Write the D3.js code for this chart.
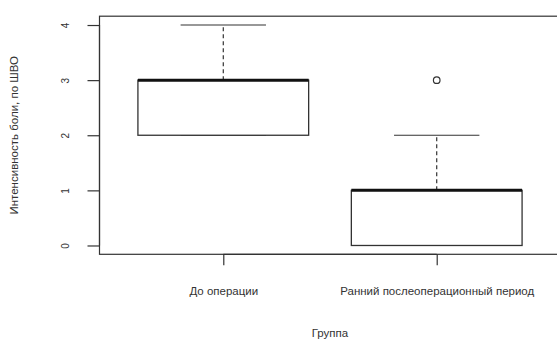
<!DOCTYPE html>
<html><head><meta charset="utf-8">
<script src="https://cdn.jsdelivr.net/npm/d3@7"></script>
<style>
html,body{margin:0;padding:0;background:#fff;}
svg{display:block;}
text{font-family:"Liberation Sans",Arial,sans-serif;fill:#333;}
</style></head>
<body><svg id="c" width="557" height="340"></svg>
<script>
const categories = ["До операции", "Ранний послеоперационный период"];
const lowerWhisker = [2, 0];
const q1 = [2, 0];
const median = [3, 1];
const q3 = [3, 1];
const upperWhisker = [4, 2];
const outliers = [[], [3]];
const yTicks = [0, 1, 2, 3, 4];
const yTitle = "Интенсивность боли, по ШВО";
const xTitle = "Группа";

const svg = d3.select("#c");
const L = 99.5, R = 560.5, T = 16.2, B = 254.3;
const x = d3.scaleLinear().domain([0.42, 2.58]).range([L, R]);
const y = d3.scaleLinear().domain([-0.16, 4.16]).range([B, T]);
const ink = "#333";

// frame
svg.append("rect").attr("x", L).attr("y", T).attr("width", R - L).attr("height", B - T)
  .attr("fill", "none").attr("stroke", ink).attr("stroke-width", 1.2);

// y axis
const ya = svg.append("g").attr("transform", `translate(${L},0)`)
  .call(d3.axisLeft(y).tickValues(yTicks).tickSize(12).tickFormat(d3.format("d")));
ya.select(".domain").attr("d", `M${-0},${y(0)}V${y(4)}`).attr("stroke", ink).attr("stroke-width", 1.2);
ya.selectAll(".tick line").attr("stroke", ink).attr("stroke-width", 1.2);
ya.selectAll(".tick text").attr("x", null).attr("dy", null)
  .attr("text-anchor", "middle").attr("transform", "translate(-34,0) rotate(-90)")
  .attr("dy", "0.35em").style("font-size", "10px").attr("fill", ink);

// x axis
const xa = svg.append("g").attr("transform", `translate(0,${B})`)
  .call(d3.axisBottom(x).tickValues([1, 2]).tickSize(11).tickFormat((d, i) => categories[i]));
xa.select(".domain").attr("d", `M${x(1)},0H${x(2)}`).attr("stroke", ink).attr("stroke-width", 1.2);
xa.selectAll(".tick line").attr("stroke", ink).attr("stroke-width", 1.2);
xa.selectAll(".tick text").attr("y", 36.5).attr("dy", "0.35em")
  .style("font-size", "11.5px").attr("fill", ink);

// boxes
const bw = 0.4, sw = 0.2;
const g = svg.append("g");
categories.forEach((c, i) => {
  const cx = i + 1;
  // whiskers dashed
  g.append("line").attr("x1", x(cx)).attr("x2", x(cx)).attr("y1", y(q3[i])).attr("y2", y(upperWhisker[i]))
    .attr("stroke", ink).attr("stroke-width", 1.2).attr("stroke-dasharray", "4,3");
  g.append("line").attr("x1", x(cx)).attr("x2", x(cx)).attr("y1", y(q1[i])).attr("y2", y(lowerWhisker[i]))
    .attr("stroke", ink).attr("stroke-width", 1.2).attr("stroke-dasharray", "4,3");
  // staples
  [upperWhisker[i], lowerWhisker[i]].forEach(v => {
    g.append("line").attr("x1", x(cx - sw)).attr("x2", x(cx + sw)).attr("y1", y(v)).attr("y2", y(v))
      .attr("stroke", ink).attr("stroke-width", 1.2);
  });
  // box
  g.append("rect").attr("x", x(cx - bw)).attr("width", x(cx + bw) - x(cx - bw))
    .attr("y", y(q3[i])).attr("height", y(q1[i]) - y(q3[i]))
    .attr("fill", "#fff").attr("stroke", ink).attr("stroke-width", 1.3);
  // median
  g.append("line").attr("x1", x(cx - bw)).attr("x2", x(cx + bw)).attr("y1", y(median[i])).attr("y2", y(median[i]))
    .attr("stroke", "#111").attr("stroke-width", 3);
  // outliers
  outliers[i].forEach(v => {
    g.append("circle").attr("cx", x(cx)).attr("cy", y(v)).attr("r", 3.3)
      .attr("fill", "none").attr("stroke", ink).attr("stroke-width", 1.2);
  });
});

// titles
svg.append("text").attr("x", (L + R) / 2).attr("y", 337).attr("text-anchor", "middle")
  .style("font-size", "11.5px").text(xTitle);
svg.append("text").attr("transform", `translate(18,${(y(0) + y(4)) / 2}) rotate(-90)`)
  .attr("text-anchor", "middle").style("font-size", "11.5px").text(yTitle);
</script></body></html>
